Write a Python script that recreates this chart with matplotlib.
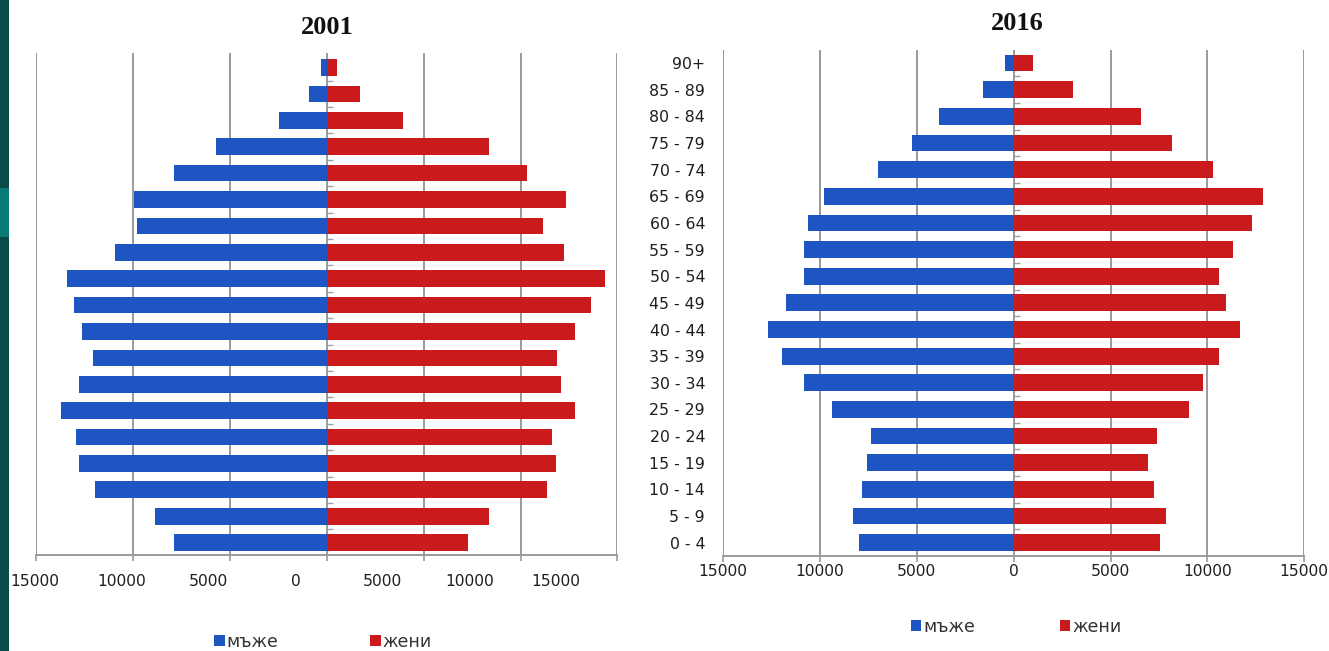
import matplotlib
matplotlib.use("Agg")
import matplotlib.pyplot as plt
from matplotlib.patches import Rectangle, Patch
from matplotlib.ticker import FuncFormatter, FixedLocator, NullFormatter
import matplotlib.transforms as mtransforms
import numpy as np

# Age groups, youngest first (drawn bottom to top)
age_groups = ["0 - 4", "5 - 9", "10 - 14", "15 - 19", "20 - 24", "25 - 29",
              "30 - 34", "35 - 39", "40 - 44", "45 - 49", "50 - 54", "55 - 59",
              "60 - 64", "65 - 69", "70 - 74", "75 - 79", "80 - 84", "85 - 89", "90+"]

# Population by sex, census 2001
male_2001 = [7900, 8850, 11950, 12800, 12950, 13700, 12800, 12050, 12650,
             13050, 13400, 10950, 9800, 9950, 7900, 5700, 2450, 900, 300]
female_2001 = [7300, 8350, 11350, 11850, 11600, 12800, 12100, 11900, 12800,
               13650, 14350, 12250, 11150, 12350, 10350, 8350, 3950, 1700, 550]

# Population by sex, 2016
male_2016 = [8000, 8300, 7850, 7550, 7350, 9400, 10800, 11950, 12700,
             11750, 10800, 10800, 10600, 9800, 7000, 5250, 3850, 1600, 450]
female_2016 = [7550, 7850, 7250, 6950, 7400, 9050, 9750, 10600, 11700,
               10950, 10600, 11350, 12300, 12850, 10300, 8150, 6600, 3050, 1000]

legend_labels = ["мъже", "жени"]
titles = ["2001", "2016"]
x_ticks = [-15000, -10000, -5000, 0, 5000, 10000, 15000]

BLUE = "#1f55c3"
RED = "#cb1a1c"
GRID = "#9a9a9a"
TEXT = "#1e1e1e"
TICK_FS = 11.2

W, H = 1329, 651
fig = plt.figure(figsize=(W / 100, H / 100), dpi=100)
fig.patch.set_facecolor("white")

# Slide edge strip on the far left
fig.patches.append(Rectangle((0, 0), 9 / W, 1, transform=fig.transFigure,
                             facecolor="#0b4b47", edgecolor="none", zorder=0))
fig.patches.append(Rectangle((0, 1 - 237 / H), 9 / W, 49 / H, transform=fig.transFigure,
                             facecolor="#0a7a77", edgecolor="none", zorder=1))


def px_axes(x0, x1, ytop, ybot):
    return fig.add_axes([x0 / W, 1 - ybot / H, (x1 - x0) / W, (ybot - ytop) / H])


abs_fmt = FuncFormatter(lambda v, p: f"{abs(int(round(v)))}")


def pyramid(ax, male, female, ylim):
    y = np.arange(len(age_groups))
    ax.barh(y, -np.array(male), height=0.63, color=BLUE, zorder=3)
    ax.barh(y, female, height=0.63, color=RED, zorder=3)
    ax.set_xlim(-15000, 15000)
    ax.set_ylim(*ylim)
    for v in x_ticks:
        ax.axvline(v, color=GRID, lw=1.4, zorder=1)
    for s in ["top", "left", "right"]:
        ax.spines[s].set_visible(False)
    ax.spines["bottom"].set_color(GRID)
    ax.spines["bottom"].set_linewidth(1.4)
    ax.set_xticks(x_ticks)
    ax.tick_params(axis="x", length=4, width=1.2, color=GRID, labelsize=TICK_FS,
                   labelcolor=TEXT, pad=2)
    ax.xaxis.set_major_formatter(abs_fmt)
    # small category separators on the zero line
    sep = ax.secondary_yaxis(0.5)
    sep.spines["right"].set_visible(False)
    sep.spines["left"].set_visible(False)
    sep.yaxis.set_major_locator(FixedLocator(y[:-1] + 0.5))
    sep.yaxis.set_major_formatter(NullFormatter())
    sep.tick_params(axis="y", length=4, width=1, color="#a0a0a0", direction="out")
    return y


# ---- 2001 ----
ax1 = px_axes(36.2, 617.4, 53, 555)
y = pyramid(ax1, male_2001, female_2001, (-0.47, 18.55))
ax1.set_yticks([])
ax1.xaxis.set_major_formatter(NullFormatter())
# tick labels of this panel sit on their own, slightly compressed scale
label_pos = lambda v: v * 0.8961 - 1610.0
trans = mtransforms.blended_transform_factory(ax1.transData, ax1.transAxes)
trans = trans + mtransforms.ScaledTranslation(0, -26 / 100, fig.dpi_scale_trans)
for v in x_ticks:
    ax1.text(label_pos(v), 0, abs_fmt(v, None), transform=trans, ha="center",
             va="center", fontsize=TICK_FS, color=TEXT, clip_on=False)

# ---- 2016 ----
ax2 = px_axes(723.1, 1304.2, 50, 556)
pyramid(ax2, male_2016, female_2016, (-0.5, 18.49))
ax2.set_yticks(y)
ax2.set_yticklabels(age_groups)
ax2.tick_params(axis="y", length=0, pad=13, labelsize=11.3, labelcolor=TEXT)

# Titles
fig.text(327 / W, 1 - 27 / H, titles[0], ha="center", va="center",
         family="Liberation Serif", weight="bold", fontsize=19, color="#111111")
fig.text(1017 / W, 1 - 24 / H, titles[1], ha="center", va="center",
         family="Liberation Serif", weight="bold", fontsize=19, color="#111111")

# Legends
handles = [Patch(facecolor=BLUE, edgecolor="none"), Patch(facecolor=RED, edgecolor="none")]
for cx, cy, cs in [(323, 642, 5.3), (1016, 627, 4.9)]:
    fig.legend(handles, legend_labels, loc="center", bbox_to_anchor=(cx / W, 1 - cy / H),
               ncol=2, frameon=False, fontsize=12.5, handlelength=0.6, handleheight=0.6,
               handletextpad=0.1, columnspacing=cs, labelcolor="#333333",
               borderpad=0, borderaxespad=0)

fig.savefig("out.png", dpi=100)
